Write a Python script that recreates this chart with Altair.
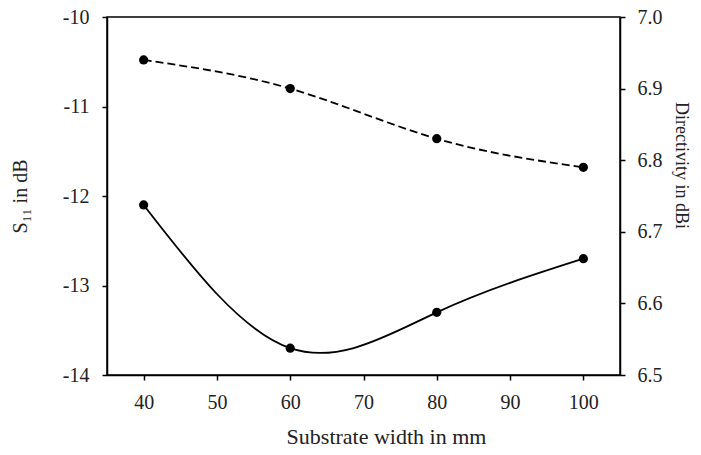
import altair as alt
import pandas as pd

widths = [40, 60, 80, 100]
s11 = [-12.1, -13.7, -13.3, -12.7]
directivity = [6.94, 6.90, 6.83, 6.79]

df = pd.DataFrame({"w": widths, "s11": s11, "d": directivity})

W, H = 513, 358
FONT = "Liberation Serif"

x = alt.X("w:Q", scale=alt.Scale(domain=[35, 105], nice=False, zero=False),
          axis=alt.Axis(values=[40, 50, 60, 70, 80, 90, 100], title="Substrate width in mm",
                        titleX=279, titleY=68, titleBaseline="alphabetic", titleAnchor="middle",
                        titleFontSize=22, labelPadding=12, tickSize=5))

base = alt.Chart(df)

left_y = alt.Y("s11:Q", scale=alt.Scale(domain=[-14, -10], nice=False, zero=False),
               axis=alt.Axis(values=[-14, -13, -12, -11, -10], title="S₁₁ in dB",
                             labelExpr="datum.value < 0 ? '-' + format(-datum.value, 'd') : format(datum.value, 'd')",
                             titleX=-87, titleY=179, titleAngle=-90, titleBaseline="middle",
                             titleFontSize=20, labelPadding=13, tickSize=5))
right_y = alt.Y("d:Q", scale=alt.Scale(domain=[6.5, 7.0], nice=False, zero=False),
                axis=alt.Axis(orient="right", values=[6.5, 6.6, 6.7, 6.8, 6.9, 7.0], format=".1f",
                              title="Directivity in dBi", titleX=60, titleY=148, titleAngle=90,
                              titleFontSize=18, titleBaseline="middle", labelPadding=12, tickSize=5))

solid = base.mark_line(color="black", strokeWidth=1.8, interpolate="natural").encode(x=x, y=left_y)
solid_pts = base.mark_circle(color="black", size=85, opacity=1).encode(x=x, y=left_y)
left = alt.layer(solid, solid_pts)

dashed = base.mark_line(color="black", strokeWidth=1.8, strokeDash=[8, 4], interpolate="natural").encode(x=x, y=right_y)
dashed_pts = base.mark_circle(color="black", size=85, opacity=1).encode(x=x, y=right_y)
right = alt.layer(dashed, dashed_pts)

chart = alt.layer(left, right).resolve_scale(y="independent").properties(
    width=W, height=H,
    background="white",
    autosize=alt.AutoSizeParams(type="none"),
    padding={"left": 99, "top": 9, "right": 73, "bottom": 72},
).configure_view(stroke="black", strokeWidth=1.5).configure_axis(
    grid=False, domainColor="black", domainWidth=1.5, tickColor="black", tickWidth=1.5,
    labelFont=FONT, titleFont=FONT, labelFontSize=20,
    labelColor="#222", titleColor="#222", titleFontWeight="normal",
)

chart.save("out.html", embed_options={"renderer": "svg", "actions": False})
